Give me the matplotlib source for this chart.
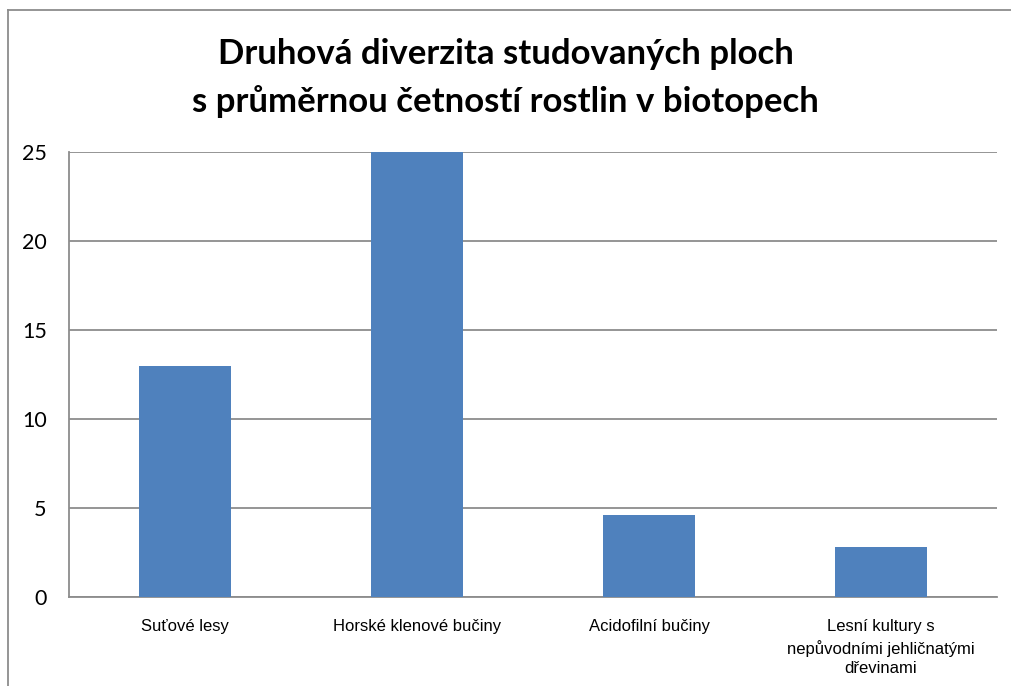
import matplotlib
matplotlib.use("Agg")
import matplotlib.pyplot as plt
from matplotlib.lines import Line2D

# data
kategorie = ["Suťové lesy", "Horské klenové bučiny", "Acidofilní bučiny",
             "Lesní kultury s\nnepůvodními jehličnatými\ndřevinami"]
hodnoty = [13, 25, 4.6, 2.8]
yticks = [0, 5, 10, 15, 20, 25]

fig = plt.figure(figsize=(10.11, 6.86), dpi=100)
ax = fig.add_axes([0.0682, 0.1297, 0.918, 0.6487])

x = range(len(kategorie))
ax.bar(x, hodnoty, width=0.4, color="#4F81BD", zorder=3)

ax.set_xlim(-0.5, len(kategorie) - 0.5)
ax.set_ylim(0, 25)
ax.set_yticks(yticks)
ax.set_xticks(list(x))
ax.set_xticklabels(kategorie, fontsize=12, family=["Liberation Sans", "DejaVu Sans"],
                   linespacing=1.38)
for lab in ax.get_yticklabels():
    lab.set_family(["Lato", "DejaVu Sans"])
    lab.set_fontsize(15.5)
ax.tick_params(axis="x", length=0, pad=16)
ax.tick_params(axis="y", length=0, pad=16)
ax.yaxis.grid(True, color="#8c8c8c", linewidth=1.3, zorder=0)
for s in ["top", "right"]:
    ax.spines[s].set_visible(False)
for s in ["left", "bottom"]:
    ax.spines[s].set_color("#8c8c8c")
    ax.spines[s].set_linewidth(1.3)

fig.text(0.5, 0.922, "Druhová diverzita studovaných ploch", ha="center", va="center",
         fontsize=25, fontweight="bold", family=["Lato", "DejaVu Sans"])
fig.text(0.5, 0.852, "s průměrnou četností rostlin v biotopech", ha="center", va="center",
         fontsize=25, fontweight="bold", family=["Lato", "DejaVu Sans"])

# chart frame (left and top edge)
fig.add_artist(Line2D([0.008, 0.008], [0.0, 0.986], color="#8c8c8c", linewidth=1.3))
fig.add_artist(Line2D([0.008, 1.0], [0.986, 0.986], color="#8c8c8c", linewidth=1.3))

fig.savefig("out.png", dpi=100)
